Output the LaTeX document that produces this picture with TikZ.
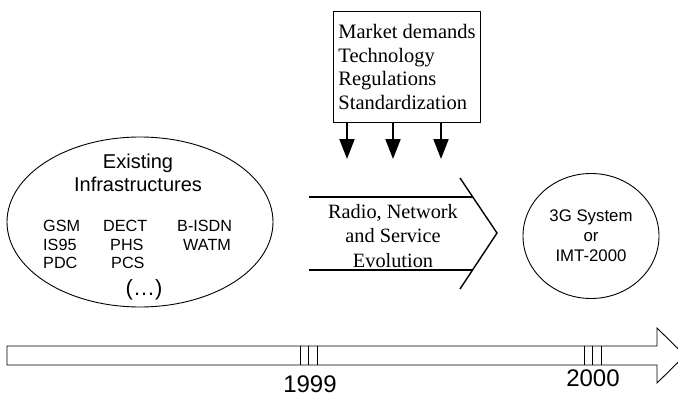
\documentclass[tikz,border=0pt]{standalone}
\usepackage{fontspec}
\setmainfont{Liberation Serif}
\setsansfont{Liberation Sans}
\usetikzlibrary{arrows.meta}
\usetikzlibrary{shapes.geometric}

\tikzset{
  factorbox/.style={draw, line width=1pt, minimum width=142pt, minimum height=110pt,
    inner xsep=5pt, align=left, font=\fontsize{20.5}{23.5}\selectfont},
  fatarrow/.style={line width=2pt, -{Triangle[width=15pt,length=20pt]}},
  codes/.style={font=\sffamily\fontsize{16.2}{18}\selectfont, anchor=west, inner sep=0pt},
  years/.style={font=\sffamily\fontsize{24}{26}\selectfont},
}

\begin{document}
\begin{tikzpicture}[x=1pt, y=-1pt]
\useasboundingbox (0,0) rectangle (678,396);
% influences
\node[factorbox] (factors) at (407,67) {Market demands\\Technology\\Regulations\\Standardization};
\foreach \x [count=\i] in {347,393,441} {
 \coordinate (in\i) at (\x,159);
 \draw[fatarrow] (factors.south -| in\i) -- (in\i);
}
% evolution chevron
\draw[line width=1.2pt] (309,197) -- (473,197);
\draw[line width=1.2pt] (309,270) -- (473,270);
\draw[line width=1.4pt] (460,178) -- (497,233) -- (460,289);
\node[align=center, font=\fontsize{20.3}{24.2}\selectfont] (evol) at (393,236) {Radio, Network\\and Service\\Evolution};
% existing systems
\node[draw, ellipse, line width=0.9pt, minimum width=266pt, minimum height=170pt] (infra) at (140,222) {};
\node[align=center, font=\sffamily\fontsize{20}{23}\selectfont] (infratitle) at (138,173) {Existing\\Infrastructures};
\node[codes] (gsm) at (43,226) {GSM};
\node[codes] (is) at (43,244.5) {IS95};
\node[codes] (pdc) at (43,263) {PDC};
\node[codes] (dect) at (103,226) {DECT};
\node[codes] (phs) at (110,244.5) {PHS};
\node[codes] (pcs) at (111,263) {PCS};
\node[codes] (bisdn) at (177,226) {B-ISDN};
\node[codes] (watm) at (183,244.5) {WATM};
\node[font=\sffamily\fontsize{22}{24}\selectfont] (more) at (144,290) {(\dots)};
% target system
\node[draw, ellipse, line width=0.9pt, minimum width=136pt, minimum height=125pt, align=center,
  font=\sffamily\fontsize{16.8}{19.8}\selectfont] (sys) at (591,236) {3G System\\or\\IMT-2000};
% time line
\draw[line width=0.9pt] (7,346) -- (657,346) -- (657,328) -- (685,355.5) -- (657,383) -- (657,365) -- (7,365) -- cycle;
\foreach \x in {300,308,317,584,592,601}
 \draw[line width=0.9pt] (\x,346) -- (\x,365);
\node[years] (y1999) at (310,384) {1999};
\node[years] (y2000) at (593,378) {2000};
\end{tikzpicture}
\end{document}
